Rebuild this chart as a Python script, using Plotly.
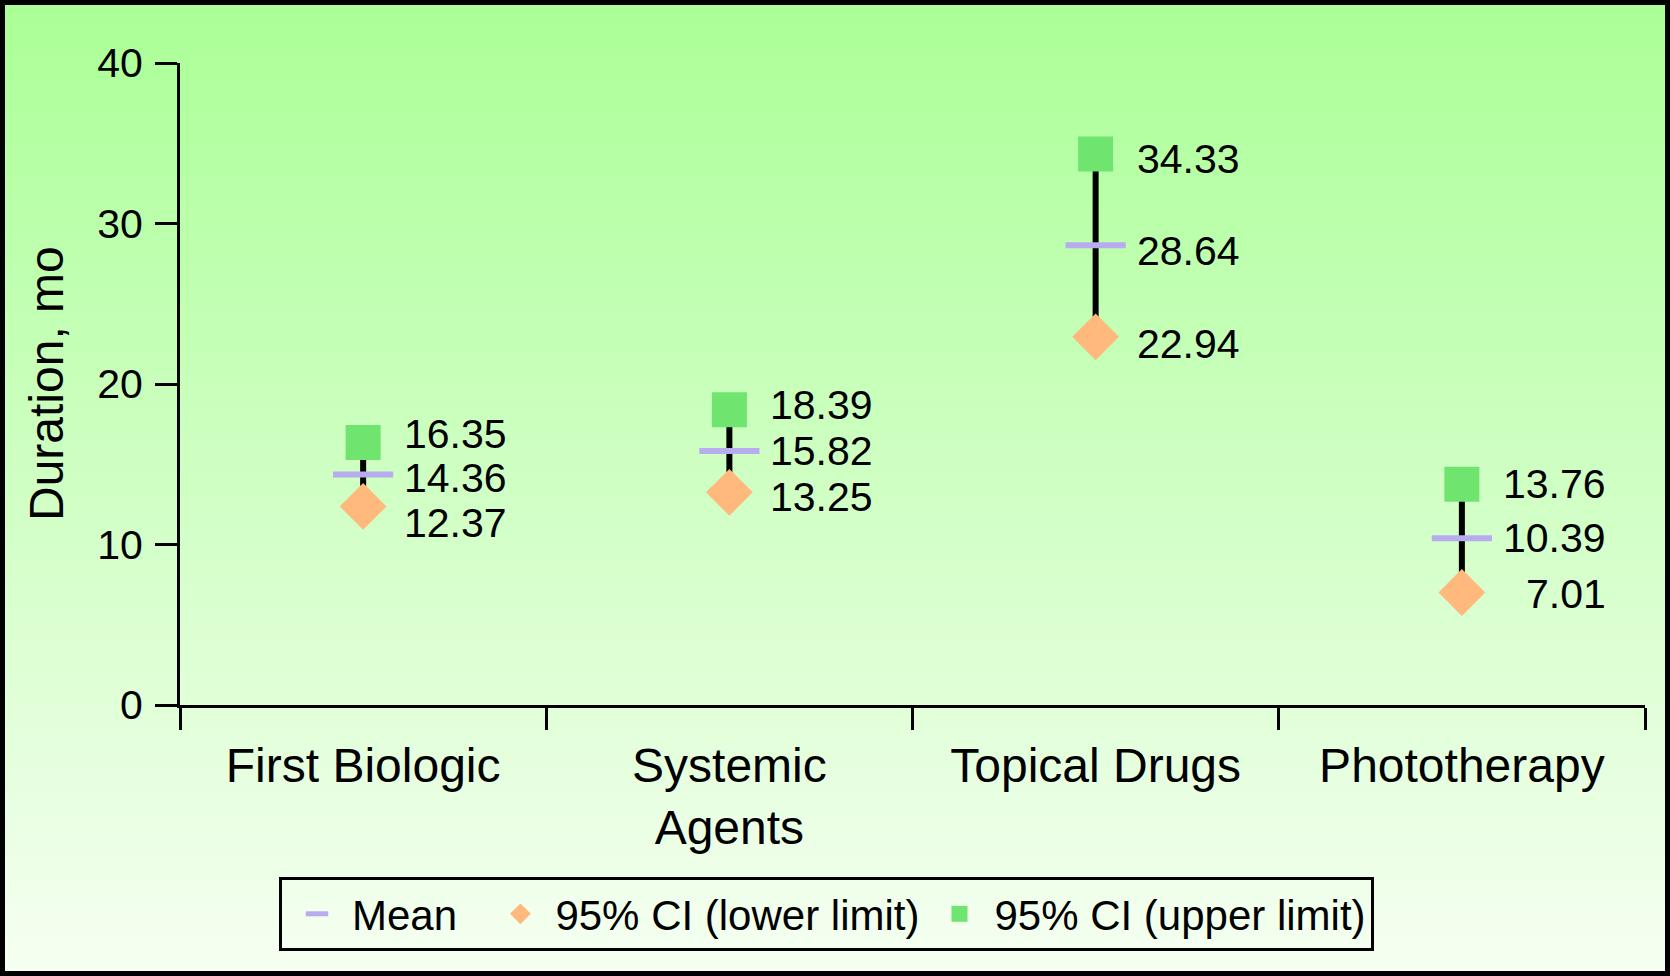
import plotly.graph_objects as go

categories = ["First Biologic", "Systemic<br>Agents", "Topical Drugs", "Phototherapy"]
mean_vals = [14.36, 15.82, 28.64, 10.39]
lower_vals = [12.37, 13.25, 22.94, 7.01]
upper_vals = [16.35, 18.39, 34.33, 13.76]
y_ticks = [0, 10, 20, 30, 40]
legend_names = ["Mean", "95% CI (lower limit)", "95% CI (upper limit)"]

W, H = 1670, 976
ML, MR, MT, MB = 180, 25, 63, 271
PW, PH = W - ML - MR, H - MT - MB

FONT = "Liberation Sans, Arial, Helvetica, sans-serif"
MEAN_C = "#b7acf0"
LOW_C = "#ffb97d"
UP_C = "#6fe46f"

# label nudges (pixels) per category: (upper, mean, lower) -- styling only
label_nudge = {
    0: (9, -3, -17),
    1: (5, 0, -5),
    2: (-5, -6, -7),
    3: (0, 0, -2),
}

fig = go.Figure()

fig.add_trace(go.Scatter(
    x=categories, y=mean_vals, mode="markers",
    name=legend_names[0] + "\u00a0\u00a0",
    marker=dict(symbol="line-ew", size=43, color=MEAN_C,
                line=dict(color=MEAN_C, width=6)),
    error_y=dict(type="data", symmetric=False,
                 array=[u - m for u, m in zip(upper_vals, mean_vals)],
                 arrayminus=[m - l for m, l in zip(mean_vals, lower_vals)],
                 color="black", thickness=6, width=0),
))
fig.add_trace(go.Scatter(
    x=categories, y=lower_vals, mode="markers", name=legend_names[1],
    marker=dict(symbol="diamond", size=36, color=LOW_C, line=dict(width=0)),
))
fig.add_trace(go.Scatter(
    x=categories, y=upper_vals, mode="markers", name=legend_names[2],
    marker=dict(symbol="square", size=35, color=UP_C, line=dict(width=0)),
))

annotations = []
for i, (cat, vals) in enumerate(zip(categories, zip(upper_vals, mean_vals, lower_vals))):
    for v, ys in zip(vals, label_nudge[i]):
        annotations.append(dict(
            x=cat, y=v, xref="x", yref="y", text=f"{v:.2f}", showarrow=False,
            xanchor="right", yanchor="middle", xshift=146, yshift=ys,
            font=dict(family=FONT, size=41, color="black"),
        ))
annotations.append(dict(
    x=(46 - ML) / PW, y=0.5, xref="paper", yref="paper", text="Duration, mo",
    textangle=-90, showarrow=False, xanchor="center", yanchor="middle",
    font=dict(family=FONT, size=48, color="black"),
))

# background gradient and border
shapes = []
top = (170, 255, 150)
bot = (246, 255, 242)
n = 122
for i in range(n):
    t0 = i / n
    t1 = (i + 1) / n
    tm = (t0 + t1) / 2
    c = tuple(round(top[k] + (bot[k] - top[k]) * tm) for k in range(3))
    y_top_px = H * t0
    y_bot_px = H * t1 + 0.6
    shapes.append(dict(
        type="rect", xref="paper", yref="paper", layer="below",
        x0=-ML / PW, x1=1 + MR / PW,
        y0=1 - (y_bot_px - MT) / PH, y1=1 - (y_top_px - MT) / PH,
        fillcolor=f"rgb{c}", line=dict(width=0),
    ))
shapes.append(dict(
    type="rect", xref="paper", yref="paper", layer="above",
    x0=(-ML + 2.5) / PW, x1=1 + (MR - 2.5) / PW,
    y0=-(MB - 2.5) / PH, y1=1 + (MT - 2.5) / PH,
    line=dict(color="black", width=5), fillcolor="rgba(0,0,0,0)",
))

fig.update_layout(
    width=W, height=H,
    margin=dict(l=ML, r=MR, t=MT, b=MB, pad=0),
    paper_bgcolor="rgb(246,255,242)",
    plot_bgcolor="rgba(0,0,0,0)",
    font=dict(family=FONT, color="black"),
    showlegend=True,
    legend=dict(
        orientation="h", x=(279 - ML) / PW, y=-(877 - MT - PH) / PH,
        xanchor="left", yanchor="top",
        bordercolor="black", borderwidth=3, bgcolor="rgba(0,0,0,0)",
        font=dict(family=FONT, size=42, color="black"),
        itemwidth=60,
    ),
    annotations=annotations,
    shapes=shapes,
    xaxis=dict(
        type="category", range=[-0.5, 3.5], showgrid=False, zeroline=False,
        showline=True, linecolor="black", linewidth=3,
        ticks="outside", tickson="boundaries", ticklen=22, tickwidth=3,
        tickcolor="black",
        tickfont=dict(family=FONT, size=48, color="black"),
        ticklabelstandoff=16,
    ),
    yaxis=dict(
        range=[0, 40], tickvals=y_ticks, showgrid=False, zeroline=False,
        showline=True, linecolor="black", linewidth=3,
        ticks="outside", ticklen=22, tickwidth=3, tickcolor="black",
        tickfont=dict(family=FONT, size=41, color="black"),
        ticklabelstandoff=4,
    ),
)

fig.write_html(
    "out.html",
    config={"displayModeBar": False},
    post_script="document.body.style.margin='0px';document.body.style.overflow='hidden';",
)
